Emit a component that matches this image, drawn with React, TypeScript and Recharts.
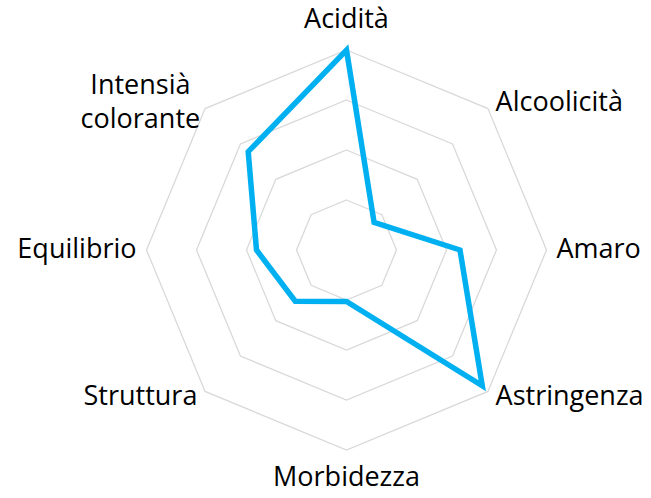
import React from "react";
import {
  PolarAngleAxis,
  PolarGrid,
  PolarRadiusAxis,
  Radar,
  RadarChart,
} from "recharts";

const attributes = [
  "Acidità",
  "Alcoolicità",
  "Amaro",
  "Astringenza",
  "Morbidezza",
  "Struttura",
  "Equilibrio",
  "Intensià\ncolorante",
];
const scores = [4, 0.78, 2.27, 3.84, 1.03, 1.45, 1.8, 2.78];

const data = attributes.map((name, i) => ({ name, score: scores[i] }));

const FONT = "'Open Sans', sans-serif";
const FONT_SIZE = 27;
const LINE_HEIGHT = 34;

// places the labels around the octagon roughly the way the spreadsheet does
const AngleTick = (props: any) => {
  const { x, y, cx, cy, payload } = props;
  const dx = x - cx;
  const dy = y - cy;
  const lines = String(payload.value).split("\n");
  let anchor: "start" | "middle" | "end" = "middle";
  let tx = x;
  if (dx > 5) {
    anchor = "start";
    tx = x + 2;
  } else if (dx < -5) {
    anchor = "end";
    tx = x - 2;
  }
  // baseline of first line
  let baseY = y + 8 - ((lines.length - 1) * LINE_HEIGHT) / 2;
  if (Math.abs(dx) <= 5) {
    baseY = dy < 0 ? y - 14 : y + 28;
  }
  if (lines.length > 1 && anchor === "end") {
    // multi-line block: lines centred inside the block
    anchor = "middle";
    tx = tx - 57;
  }
  return (
    <g>
      {lines.map((line, i) => (
        <text
          key={i}
          x={tx}
          y={baseY + i * LINE_HEIGHT}
          fontFamily={FONT}
          fontSize={FONT_SIZE}
          fill="#000"
          textAnchor={anchor}
        >
          {line}
        </text>
      ))}
    </g>
  );
};

const App = () => {
  return (
    <div
      style={{
        position: "absolute",
        left: 0,
        top: 0,
        width: 651,
        height: 498,
        background: "#fff",
      }}
    >
      <RadarChart
        width={651}
        height={498}
        data={data}
        cx={346.5}
        cy={250}
        outerRadius={200}
        margin={{ top: 0, right: 0, bottom: 0, left: 0 }}
      >
        <PolarGrid gridType="polygon" radialLines={false} stroke="#d9d9d9" strokeWidth={1.3} />
        <PolarRadiusAxis
          domain={[0, 4]}
          tickCount={5}
          axisLine={false}
          tick={false}
        />
        <PolarAngleAxis dataKey="name" tick={<AngleTick />} tickLine={false} axisLine={false} />
        <Radar
          dataKey="score"
          stroke="#00b0f0"
          strokeWidth={5.5}
          fill="none"
          fillOpacity={0}
          dot={false}
          isAnimationActive={false}
        />
      </RadarChart>
    </div>
  );
};

export default App;
